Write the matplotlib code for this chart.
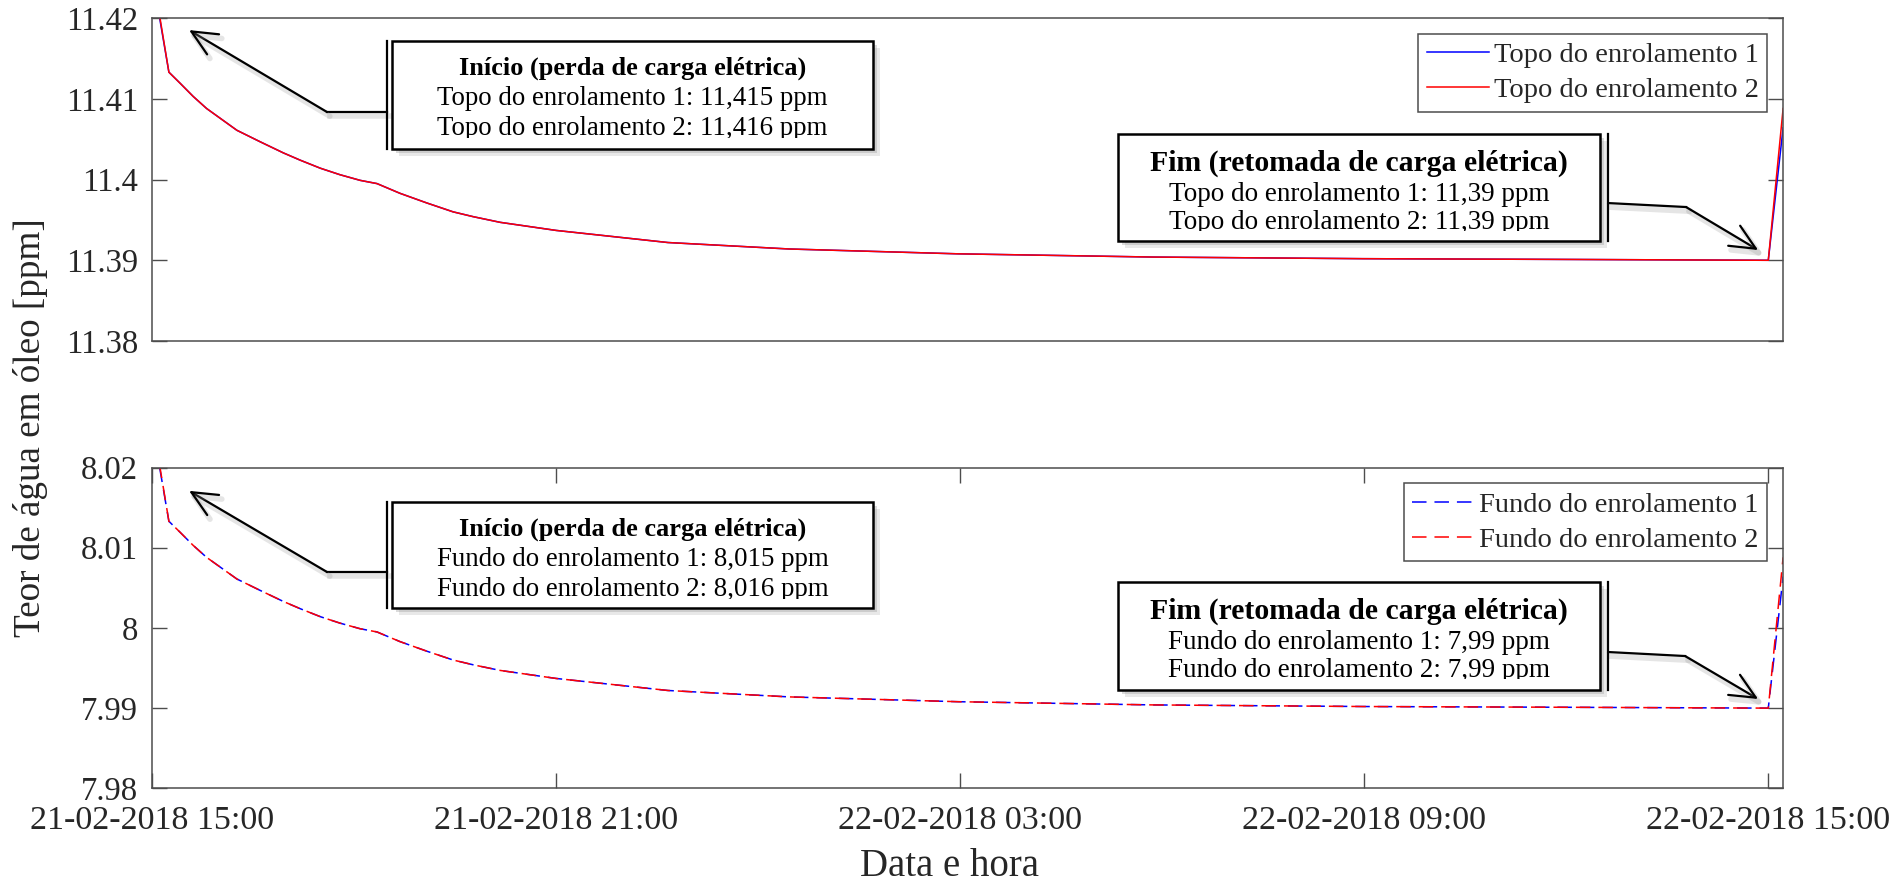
import matplotlib
matplotlib.use("Agg")
import matplotlib.pyplot as plt
import matplotlib.patheffects as pe
from matplotlib.patches import Rectangle, FancyArrowPatch
from matplotlib.lines import Line2D
from matplotlib.transforms import Bbox, TransformedBbox
import pandas as pd

# ---------------------------------------------------------------- data
start = pd.Timestamp("2018-02-21 15:00")

# elapsed time since the start of the outage [h]
hours = [0.00, 0.25, 0.42, 0.61, 0.81, 1.01, 1.26, 1.60, 1.95, 2.20, 2.50,
         2.79, 3.09, 3.34, 3.68, 4.08, 4.47, 4.77, 5.17, 6.00, 7.66, 9.46,
         11.97, 14.87, 17.98, 21.18, 24.00, 24.22]

# water content in oil, top of the windings [ppm]
topo_1 = [11.4255, 11.4133, 11.4119, 11.4103, 11.4088, 11.4076, 11.4061,
          11.4047, 11.4033, 11.4024, 11.4014, 11.4006, 11.3999, 11.3995,
          11.3983, 11.3971, 11.3960, 11.3954, 11.3947, 11.3937, 11.3922,
          11.3914, 11.3908, 11.3904, 11.3902, 11.3901, 11.3900, 11.4064]
topo_2 = [11.4260, 11.4133, 11.4119, 11.4103, 11.4088, 11.4076, 11.4061,
          11.4047, 11.4033, 11.4024, 11.4014, 11.4006, 11.3999, 11.3995,
          11.3983, 11.3971, 11.3960, 11.3954, 11.3947, 11.3937, 11.3922,
          11.3914, 11.3908, 11.3904, 11.3902, 11.3901, 11.3900, 11.4088]

# water content in oil, bottom of the windings [ppm]
fundo_1 = [8.0255, 8.0133, 8.0119, 8.0103, 8.0088, 8.0076, 8.0061,
           8.0047, 8.0033, 8.0024, 8.0014, 8.0006, 7.9999, 7.9995,
           7.9983, 7.9971, 7.9960, 7.9954, 7.9947, 7.9937, 7.9922,
           7.9914, 7.9908, 7.9904, 7.9902, 7.9901, 7.9900, 8.0064]
fundo_2 = [8.0260, 8.0133, 8.0119, 8.0103, 8.0088, 8.0076, 8.0061,
           8.0047, 8.0033, 8.0024, 8.0014, 8.0006, 7.9999, 7.9995,
           7.9983, 7.9971, 7.9960, 7.9954, 7.9947, 7.9937, 7.9922,
           7.9914, 7.9908, 7.9904, 7.9902, 7.9901, 7.9900, 8.0088]

tick_hours = [0, 6, 12, 18, 24]
tick_labels = ["21-02-2018 15:00", "21-02-2018 21:00", "22-02-2018 03:00",
               "22-02-2018 09:00", "22-02-2018 15:00"]
end_hours = 24.22

top_yticks = [11.38, 11.39, 11.40, 11.41, 11.42]
top_yticklabels = ["11.38", "11.39", "11.4", "11.41", "11.42"]
bot_yticks = [7.98, 7.99, 8.00, 8.01, 8.02]
bot_yticklabels = ["7.98", "7.99", "8", "8.01", "8.02"]

labels_top = ["Topo do enrolamento 1", "Topo do enrolamento 2"]
labels_bot = ["Fundo do enrolamento 1", "Fundo do enrolamento 2"]

inicio_top = ["Início (perda de carga elétrica)",
              "Topo do enrolamento 1: 11,415 ppm",
              "Topo do enrolamento 2: 11,416 ppm"]
fim_top = ["Fim (retomada de carga elétrica)",
           "Topo do enrolamento 1: 11,39 ppm",
           "Topo do enrolamento 2: 11,39 ppm"]
inicio_bot = ["Início (perda de carga elétrica)",
              "Fundo do enrolamento 1: 8,015 ppm",
              "Fundo do enrolamento 2: 8,016 ppm"]
fim_bot = ["Fim (retomada de carga elétrica)",
           "Fundo do enrolamento 1: 7,99 ppm",
           "Fundo do enrolamento 2: 7,99 ppm"]

# ---------------------------------------------------------------- style
FONT = "Liberation Serif"
TXT = "#262626"
AX = "#4d4d4d"
plt.rcParams["font.family"] = [FONT, "DejaVu Serif"]


def to_time(h):
    return (start + pd.to_timedelta(h, unit="h")).to_pydatetime()


times = [to_time(h) for h in hours]
xticks = [to_time(h) for h in tick_hours]
xlim = (to_time(0), to_time(end_hours))

fig = plt.figure(figsize=(19.03, 8.81), dpi=100)
ax_top = fig.add_axes([0.0799, 0.6129, 0.8571, 0.3666])
ax_bot = fig.add_axes([0.0799, 0.1052, 0.8571, 0.3641])

dash = (0, (9.5, 5.2))
LW = 1.1
ax_top.plot(times, topo_1, color="#0000ff", lw=LW, label=labels_top[0])
ax_top.plot(times, topo_2, color="#ff0000", lw=LW, label=labels_top[1])
ax_bot.plot(times, fundo_1, color="#0000ff", lw=LW, ls=dash, label=labels_bot[0])
ax_bot.plot(times, fundo_2, color="#ff0000", lw=LW, ls=dash, label=labels_bot[1])

for ax, yt, ytl in ((ax_top, top_yticks, top_yticklabels),
                    (ax_bot, bot_yticks, bot_yticklabels)):
    ax.set_xlim(*xlim)
    ax.set_ylim(yt[0], yt[-1])
    ax.set_yticks(yt)
    ax.set_yticklabels(ytl)
    ax.set_xticks(xticks)
    ax.set_xticklabels(tick_labels)
    for s in ax.spines.values():
        s.set_color(AX)
        s.set_linewidth(1.1)
    ax.tick_params(direction="in", length=10.5, width=1.0, color=AX,
                   top=True, right=True, labelcolor=TXT)
    ax.tick_params(axis="y", pad=10, labelsize=23.5)
    ax.tick_params(axis="x", pad=12.5, labelsize=24.5)
    leg = ax.legend(loc="upper right", fontsize=20.5, handlelength=2.18,
                    handletextpad=0.18, borderpad=0.3, labelspacing=0.32,
                    borderaxespad=0.55, fancybox=False, framealpha=1,
                    edgecolor=AX)
    leg.get_frame().set_linewidth(1.1)
    for t in leg.get_texts():
        t.set_color(TXT)

ax_top.tick_params(axis="x", bottom=False, top=False, labelbottom=False)

fig.text(31 / 1903, 1 - 428 / 881, "Teor de água em óleo [ppm]", rotation=90,
         ha="center", va="center", fontsize=26.7, color=TXT)
fig.text(950 / 1903, 1 - 866 / 881, "Data e hora", ha="center", va="center",
         fontsize=28, color=TXT)


# ---------------------------------------------------------------- callouts
def callout(ax, box, side_x, lines, sizes, baselines, clip_y, path):
    x0, x1, y0, y1 = box
    shadow = [pe.SimplePatchShadow(offset=(5, -5), shadow_rgbFace="0.75", alpha=0.35),
              pe.SimplePatchShadow(offset=(3, -3), shadow_rgbFace="0.6", alpha=0.35),
              pe.Normal()]
    ax.add_patch(Rectangle((x0, y0), x1 - x0, y1 - y0, transform=ax.transAxes,
                           facecolor="white", edgecolor="black", lw=1.8,
                           zorder=6, clip_on=False, path_effects=shadow))
    ax.add_line(Line2D([side_x, side_x], [y0, y1], transform=ax.transAxes,
                       color="black", lw=1.6, zorder=6, clip_on=False))
    xc = (x0 + x1) / 2
    for i, (s, fs, yb) in enumerate(zip(lines, sizes, baselines)):
        t = ax.text(xc, yb, s, transform=ax.transAxes, ha="center",
                    va="baseline", fontsize=fs, color="black",
                    fontweight="bold" if i == 0 else "normal", zorder=7)
        if i == len(lines) - 1:
            t.set_clip_box(TransformedBbox(Bbox([[x0, clip_y], [x1, y1]]),
                                           ax.transAxes))
            t.set_clip_on(True)
    line_shadow = [pe.SimpleLineShadow(offset=(2, -3), shadow_color="0.6",
                                       alpha=0.25, linewidth=4), pe.Normal()]
    (sx, sy), (ex, ey), (tx, ty) = path
    ax.add_line(Line2D([sx, ex], [sy, ey], transform=ax.transAxes, color="black",
                       lw=1.6, zorder=5, clip_on=False, path_effects=line_shadow))
    ax.add_patch(FancyArrowPatch((ex, ey), (tx, ty), transform=ax.transAxes,
                                 arrowstyle="->,head_length=1.3,head_width=0.6",
                                 mutation_scale=14, lw=1.6, color="black",
                                 shrinkA=0, shrinkB=0, zorder=5, clip_on=False,
                                 path_effects=line_shadow))


INI_SIZES = (19.0, 19.4, 19.4)
FIM_SIZES = (21.4, 19.5, 19.5)

callout(ax_top, (0.1472, 0.4421, 0.5944, 0.9288), 0.1441, inicio_top,
        INI_SIZES, (0.8235, 0.7307, 0.6378), 0.6285,
        ((0.1441, 0.7090), (0.1073, 0.7090), (0.0227, 0.9628)))
callout(ax_top, (0.5923, 0.8878, 0.3096, 0.6409), 0.8927, fim_top,
        FIM_SIZES, (0.5263, 0.4334, 0.3467), 0.3406,
        ((0.8927, 0.4272), (0.9405, 0.4149), (0.9847, 0.2817)))
callout(ax_bot, (0.1472, 0.4421, 0.5620, 0.8925), 0.1441, inicio_bot,
        INI_SIZES, (0.7865, 0.6930, 0.5995), 0.5901,
        ((0.1441, 0.6743), (0.1073, 0.6743), (0.0227, 0.9274)))
callout(ax_bot, (0.5923, 0.8878, 0.3067, 0.6431), 0.8927, fim_bot,
        FIM_SIZES, (0.5277, 0.4342, 0.3469), 0.3407,
        ((0.8927, 0.4249), (0.9399, 0.4124), (0.9847, 0.2784)))

fig.savefig("out.png", dpi=100)
